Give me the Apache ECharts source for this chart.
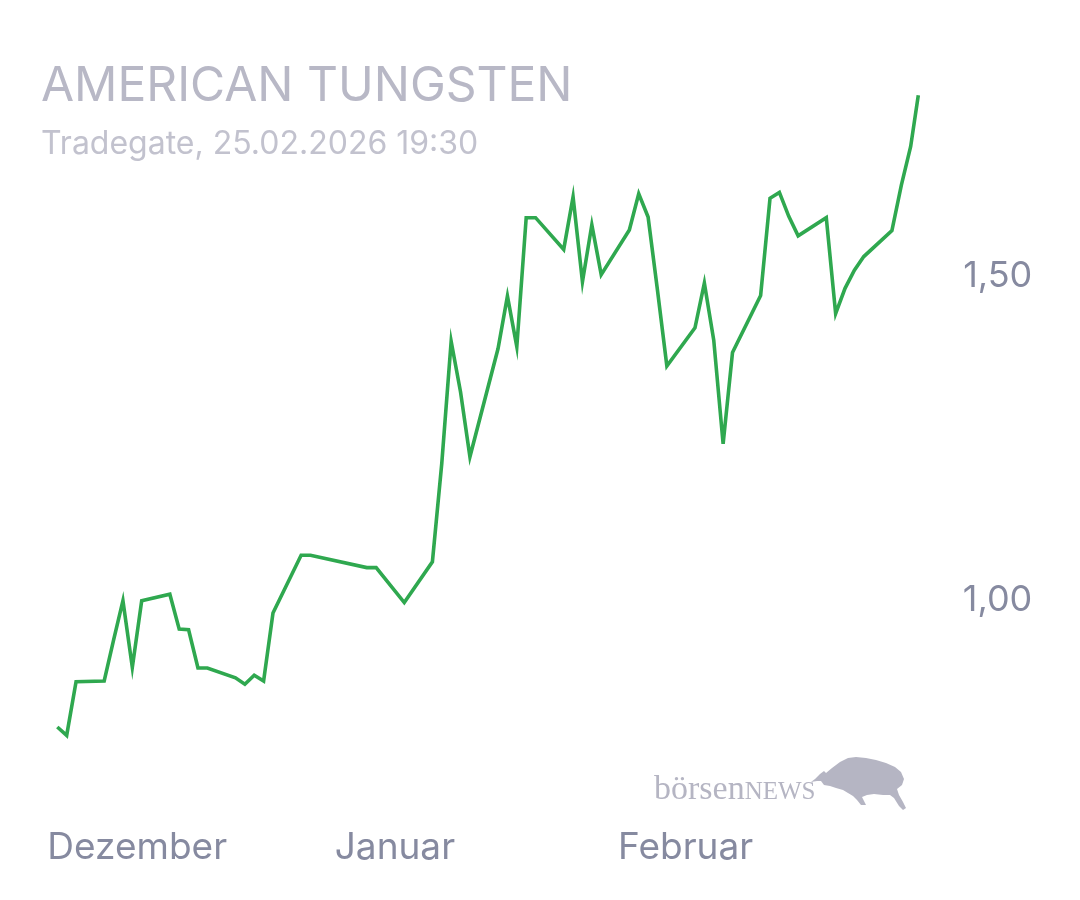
<!DOCTYPE html>
<html>
<head>
<meta charset="utf-8">
<script src="https://cdn.jsdelivr.net/npm/echarts@6/dist/echarts.min.js"></script>
<style>
  html, body { margin: 0; padding: 0; background: #ffffff; }
  #chart { width: 1080px; height: 900px; }
</style>
</head>
<body>
<div id="chart"></div>
<script>
// ---- data ----
const chartTitle = 'AMERICAN TUNGSTEN';
const chartSubtitle = 'Tradegate, 25.02.2026 19:30';
const monthNames = ['Januar','Februar','März','April','Mai','Juni','Juli','August','September','Oktober','November','Dezember'];
const yTickValues = [1.0, 1.5];

const dates = [
  '2025-11-26','2025-11-27','2025-11-28',
  '2025-12-01','2025-12-02','2025-12-03','2025-12-04','2025-12-05',
  '2025-12-08','2025-12-09','2025-12-10','2025-12-11','2025-12-12',
  '2025-12-15','2025-12-16','2025-12-17','2025-12-18','2025-12-19',
  '2025-12-22','2025-12-23','2025-12-29','2025-12-30',
  '2026-01-02','2026-01-05','2026-01-06','2026-01-07','2026-01-08','2026-01-09',
  '2026-01-12','2026-01-13','2026-01-14','2026-01-15','2026-01-16',
  '2026-01-19','2026-01-20','2026-01-21','2026-01-22','2026-01-23',
  '2026-01-26','2026-01-27','2026-01-28','2026-01-29','2026-01-30',
  '2026-02-02','2026-02-03','2026-02-04','2026-02-05','2026-02-06',
  '2026-02-09','2026-02-10','2026-02-11','2026-02-12','2026-02-13',
  '2026-02-16','2026-02-17','2026-02-18','2026-02-19','2026-02-20',
  '2026-02-23','2026-02-24','2026-02-25','2026-02-25T19:30'
];
const prices = [
  0.804, 0.791, 0.874,
  0.875, 0.938, 0.999, 0.896, 0.999,
  1.009, 0.955, 0.954, 0.895, 0.895,
  0.880, 0.870, 0.884, 0.875, 0.980,
  1.069, 1.069, 1.050, 1.050,
  0.996, 1.059, 1.211, 1.399, 1.321, 1.221,
  1.388, 1.469, 1.391, 1.590, 1.590,
  1.541, 1.622, 1.491, 1.579, 1.502,
  1.571, 1.627, 1.591, 1.478, 1.361,
  1.420, 1.489, 1.401, 1.241, 1.382,
  1.470, 1.620, 1.629, 1.592, 1.562,
  1.590, 1.442, 1.481, 1.509, 1.530,
  1.570, 1.640, 1.700, 1.779
];

function toTime(s) {
  const [d, t] = s.split('T');
  const [y, m, day] = d.split('-').map(Number);
  let hh = 0, mm = 0;
  if (t) { [hh, mm] = t.split(':').map(Number); }
  return Date.UTC(y, m - 1, day, hh, mm);
}
const seriesData = dates.map((d, i) => [toTime(d), prices[i]]);

const chart = echarts.init(document.getElementById('chart'), null, { renderer: 'canvas' });

const labelColor = '#868aa0';
const titleColor = '#b8b8c6';
const logoColor = '#b5b5c3';

const option = {
  useUTC: true,
  backgroundColor: '#ffffff',
  animation: false,
  title: [
    {
      text: chartTitle,
      left: 36, top: 58,
      textStyle: { fontFamily: 'Inter', fontSize: 48, fontWeight: 400, color: titleColor }
    },
    {
      text: chartSubtitle,
      left: 36, top: 123,
      textStyle: { fontFamily: 'Inter', fontSize: 32, fontWeight: 400, color: '#c2c2ce' }
    }
  ],
  grid: { left: 57.3, right: 161.7, top: 81.6, bottom: 138, containLabel: false },
  xAxis: {
    type: 'time',
    min: toTime(dates[0]),
    max: toTime(dates[dates.length - 1]),
    minInterval: 28 * 86400000,
    maxInterval: 31 * 86400000,
    axisLine: { show: false },
    axisTick: { show: false },
    splitLine: { show: false },
    axisLabel: {
      showMinLabel: false,
      showMaxLabel: false,
      margin: 67,
      color: labelColor,
      fontFamily: 'Inter',
      fontSize: 37,
      formatter: function (value) {
        const m = new Date(value).getUTCMonth();
        if (m === 11) return '{first|' + monthNames[m] + '}';
        return monthNames[m];
      },
      rich: {
        first: { color: labelColor, fontFamily: 'Inter', fontSize: 37, padding: [0, 0, 0, 66] }
      }
    }
  },
  yAxis: {
    type: 'value',
    position: 'right',
    min: 0.75,
    max: 1.80,
    axisLine: { show: false },
    axisTick: { show: false },
    splitLine: { show: false },
    axisLabel: {
      customValues: yTickValues,
      align: 'right',
      margin: 114,
      color: labelColor,
      fontFamily: 'Inter',
      fontSize: 36,
      formatter: function (v) { return v.toFixed(2).replace('.', ','); }
    }
  },
  series: [
    {
      type: 'line',
      data: seriesData,
      showSymbol: false,
      symbol: 'none',
      smooth: false,
      lineStyle: { color: '#2fa84f', width: 3.6, join: 'miter' },
      emphasis: { disabled: true }
    }
  ],
  graphic: [
    {
      type: 'text',
      left: 654, top: 773,
      style: {
        text: '{a|börsen}{b|NEWS}',
        rich: {
          a: { fontFamily: 'Liberation Serif', fontSize: 34, fill: logoColor },
          b: { fontFamily: 'Liberation Serif', fontSize: 25, fill: logoColor, padding: [5, 0, 0, 0] }
        }
      }
    },
    {
      type: 'polygon',
      shape: {
        points: [
          [811,782],[815,779],[820,774],[824,771],[826,773],[832,768],[840,762],[848,758],
          [856,757],[866,758],[876,760],[886,763],[895,767],[901,772],[904,779],[902,785],
          [897,789],[899,795],[903,802],[906,808],[903,810],[899,806],[894,798],[890,795],
          [883,795],[874,794],[867,795],[862,797],[864,801],[866,805],[861,805],[857,800],
          [853,796],[848,793],[843,790],[836,788],[830,786],[824,785],[821,781],[817,781]
        ]
      },
      style: { fill: logoColor }
    }
  ]
};

chart.setOption(option);
</script>
</body>
</html>
